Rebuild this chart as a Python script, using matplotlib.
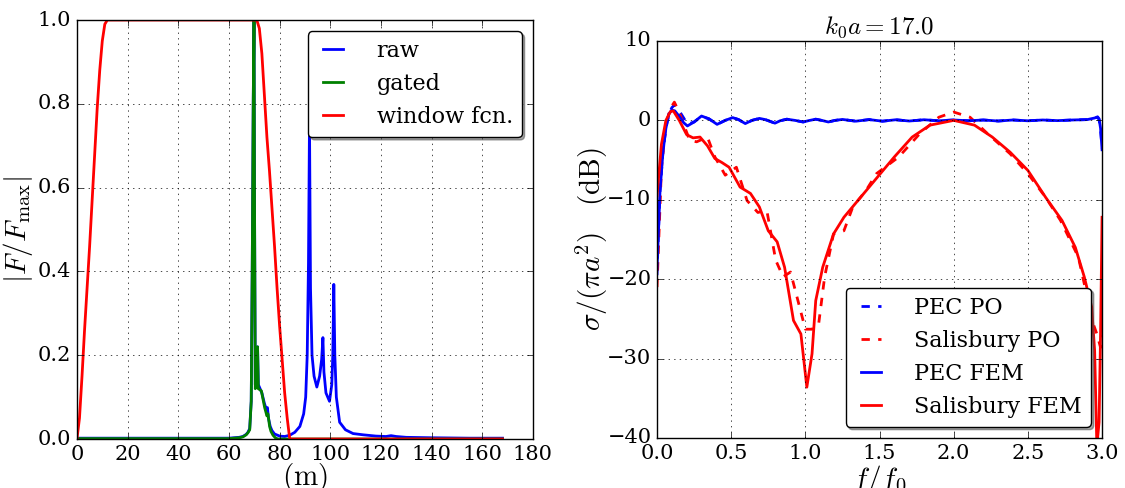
import numpy as np
import matplotlib
matplotlib.use('Agg')
import matplotlib.pyplot as plt

# ---- left panel: time-domain gating ----
raw_x = [0, 20, 40, 60, 62, 64, 65.5, 66.8, 67.5, 68.2, 68.8, 69.2, 69.6, 69.9, 70.1, 70.4,
         70.8, 71.3, 71.6, 72.3, 73.0, 74.0, 74.8, 75.2, 75.6, 76.3, 77.0, 78.0, 80.0, 82.0,
         84.0, 86.0, 88.0, 89.5, 90.3, 90.9, 91.4, 91.8, 92.2, 92.8, 93.6, 94.7, 95.8, 96.6,
         97.1, 97.5, 98.3, 99.7, 100.6, 101.0, 101.4, 101.8, 102.4, 103.7, 106.0, 109.0,
         113.0, 118.0, 122.0, 124.0, 126.0, 130.0, 140.0, 155.0, 168.0]
raw_y = [0.002, 0.002, 0.002, 0.002, 0.003, 0.004, 0.006, 0.011, 0.016, 0.025, 0.09, 0.41,
         0.81, 1.0, 0.57, 0.13, 0.15, 0.22, 0.13, 0.12, 0.11, 0.085, 0.07, 0.075, 0.05, 0.03,
         0.02, 0.012, 0.007, 0.006, 0.009, 0.016, 0.03, 0.06, 0.1, 0.2, 0.42, 0.756, 0.36,
         0.2, 0.15, 0.124, 0.15, 0.19, 0.242, 0.16, 0.11, 0.09, 0.13, 0.2, 0.369, 0.2, 0.1,
         0.04, 0.022, 0.013, 0.01, 0.007, 0.006, 0.008, 0.006, 0.004, 0.003, 0.002, 0.002]

gated_x = [0, 20, 40, 60, 62, 64, 65.5, 66.8, 67.5, 68.2, 68.8, 69.2, 69.6, 69.9, 70.1, 70.4,
           70.8, 71.3, 71.6, 72.8, 74.1, 75.0, 75.4, 76.05, 76.6, 77.4, 78.3, 79.3, 100, 140, 168]
gated_y = [0.001, 0.001, 0.001, 0.001, 0.002, 0.003, 0.005, 0.01, 0.015, 0.022, 0.09, 0.41,
           0.81, 1.0, 0.57, 0.12, 0.14, 0.22, 0.12, 0.115, 0.075, 0.055, 0.06, 0.03, 0.018,
           0.009, 0.003, 0.0, 0.0, 0.0, 0.0]

win_x = [0, 1, 2, 3, 4, 5, 6, 7, 8, 9, 10, 11, 12, 71, 72, 73, 74, 75, 76, 77, 78, 79, 80,
         81, 82, 83, 84, 168]
win_y = [0.0, 0.05, 0.15, 0.26, 0.36, 0.46, 0.57, 0.68, 0.79, 0.88, 0.95, 0.99, 1.0, 1.0,
         0.98, 0.92, 0.82, 0.72, 0.64, 0.55, 0.46, 0.36, 0.27, 0.19, 0.11, 0.05, 0.0, 0.0]

# ---- right panel: RCS vs normalised frequency ----
pec_x = [0.0, 0.01, 0.02, 0.04, 0.06, 0.08, 0.10, 0.12, 0.15, 0.18, 0.205, 0.25, 0.30, 0.35,
         0.405, 0.46, 0.51, 0.55, 0.595, 0.64, 0.69, 0.73, 0.795, 0.83, 0.875, 0.93, 0.985,
         1.03, 1.07, 1.11, 1.155, 1.2, 1.25, 1.34, 1.43, 1.52, 1.61, 1.7, 1.8, 1.9, 2.0, 2.1,
         2.2, 2.3, 2.4, 2.5, 2.6, 2.7, 2.8, 2.9, 2.95, 2.97, 2.98, 2.99, 3.0]
pec_fem = [-18.8, -14, -9, -4, -1, 0.8, 1.3, 1.2, 0.5, -0.3, -0.7, -0.2, 0.55, 0.2, -0.5,
           0.0, 0.35, 0.1, -0.4, 0.0, 0.25, 0.1, -0.35, -0.05, 0.15, 0.0, -0.2, 0.0, 0.15,
           0.0, -0.2, 0.0, 0.12, -0.1, 0.1, -0.1, 0.08, -0.08, 0.08, -0.05, 0.05, -0.05, 0.05,
           -0.08, 0.05, -0.05, 0.05, -0.03, 0.05, 0.1, 0.3, 0.45, 0.2, -1.0, -3.7]
pec_po = [-19.5, -14, -9, -4, -1, 0.8, 1.6, 2.0, 1.2, 0.3, -0.5, -0.2, 0.5, 0.2, -0.5,
          0.0, 0.35, 0.1, -0.4, 0.0, 0.25, 0.1, -0.35, -0.05, 0.15, 0.0, -0.2, 0.0, 0.15,
          0.0, -0.2, 0.0, 0.12, -0.1, 0.1, -0.1, 0.08, -0.08, 0.08, -0.05, 0.05, -0.05, 0.05,
          -0.08, 0.05, -0.05, 0.05, -0.03, 0.05, 0.1, 0.3, 0.4, 0.1, -1.2, -3.5]

sal_fem_x = [0.0, 0.03, 0.06, 0.09, 0.11, 0.15, 0.2, 0.243, 0.29, 0.34, 0.39, 0.437, 0.486,
             0.56, 0.63, 0.69, 0.75, 0.81, 0.86, 0.92, 0.97, 1.01, 1.045, 1.07, 1.117, 1.19,
             1.26, 1.336, 1.43, 1.506, 1.6, 1.72, 1.84, 2.0, 2.14, 2.26, 2.38, 2.5, 2.62,
             2.73, 2.82, 2.88, 2.93, 2.95, 2.965, 2.98, 2.99, 3.0]
sal_fem = [-9.5, -3, 0, 1.1, 1.2, 0.0, -1.8, -2.2, -2.1, -3.2, -4.8, -5.3, -5.9, -8.4, -9.2,
           -10.9, -13.9, -15.3, -18.5, -25.2, -26.9, -33.6, -29.4, -22.7, -18.5, -14.3,
           -12.2, -10.5, -8.4, -6.7, -4.6, -2.1, -0.6, 0.0, -0.6, -2.1, -4.0, -6.3, -9.7,
           -12.6, -16.0, -19.7, -23.5, -29.0, -41.0, -38.0, -26.9, -12.2]

sal_po_x = [0.0, 0.03, 0.06, 0.09, 0.117, 0.15, 0.22, 0.267, 0.34, 0.39, 0.46, 0.535, 0.607,
            0.68, 0.74, 0.80, 0.85, 0.90, 0.95, 1.0, 1.045, 1.09, 1.13, 1.19, 1.26, 1.32,
            1.41, 1.48, 1.63, 1.77, 1.9, 2.0, 2.11, 2.23, 2.38, 2.5, 2.62, 2.72, 2.84, 2.89,
            2.94, 2.965, 2.99, 3.0]
sal_po = [-21.0, -6, -0.5, 1.5, 2.3, 1.0, -2.5, -2.7, -2.1, -4.6, -6.9, -5.9, -10.1, -11.6,
          -11.3, -17.6, -19.7, -19.1, -22.7, -26.3, -26.3, -25.6, -19.7, -14.3, -13.9, -10.9,
          -8.8, -6.7, -4.6, -1.7, 0.4, 1.05, 0.4, -1.7, -4.2, -6.7, -9.7, -12.6, -17.2, -21.4,
          -25.6, -26.9, -28.6, -27.0]

plt.style.use('classic')
plt.rcParams.update({
    'figure.facecolor': 'white',
    'font.family': 'serif',
    'font.serif': ['DejaVu Serif'],
    'mathtext.fontset': 'cm',
    'font.size': 15,
    'xtick.labelsize': 15,
    'ytick.labelsize': 15,
    'axes.labelsize': 21,
})

fig = plt.figure(figsize=(11.25, 4.88), dpi=100)
ax1 = fig.add_axes([0.0684, 0.1004, 0.4053, 0.8586])
ax2 = fig.add_axes([0.584, 0.1025, 0.3956, 0.8135])

ax1.plot(raw_x, raw_y, color='b', lw=2, label='raw')
ax1.plot(gated_x, gated_y, color='g', lw=2, label='gated')
ax1.plot(win_x, win_y, color='r', lw=2, label='window fcn.')
ax1.set_xlim(0, 180)
ax1.set_ylim(0, 1)
ax1.set_xticks(np.arange(0, 181, 20))
ax1.set_yticks(np.arange(0, 1.01, 0.2))
ax1.grid(True)
ax1.set_xlabel(r'$\mathrm{(m)}$', labelpad=-2)
ax1.set_ylabel(r'$|F/F_{\mathrm{max}}|$', labelpad=2)
ax1.legend(loc='upper right', fancybox=True, shadow=True, fontsize=16,
           handlelength=1.5, handletextpad=1.2)

ax2.plot(pec_x, pec_po, color='b', lw=2, ls='--', label='PEC PO')
ax2.plot(sal_po_x, sal_po, color='r', lw=2, ls='--', label='Salisbury PO')
ax2.plot(pec_x, pec_fem, color='b', lw=2, label='PEC FEM')
ax2.plot(sal_fem_x, sal_fem, color='r', lw=2, label='Salisbury FEM')
ax2.set_xlim(0, 3)
ax2.set_ylim(-40, 10)
ax2.set_xticks(np.arange(0, 3.01, 0.5))
ax2.set_yticks(np.arange(-40, 11, 10))
ax2.grid(True)
ax2.set_title(r'$k_0a = 17.0$', fontsize=18)
ax2.set_xlabel(r'$f/f_0$', labelpad=0)
ax2.set_ylabel(r'$\sigma/(\pi a^2)\quad\mathrm{(dB)}$', labelpad=-2)
ax2.legend(loc='lower right', fancybox=True, shadow=True, fontsize=16,
           handlelength=1.5, handletextpad=1.2)

fig.savefig('out.png', dpi=100)
